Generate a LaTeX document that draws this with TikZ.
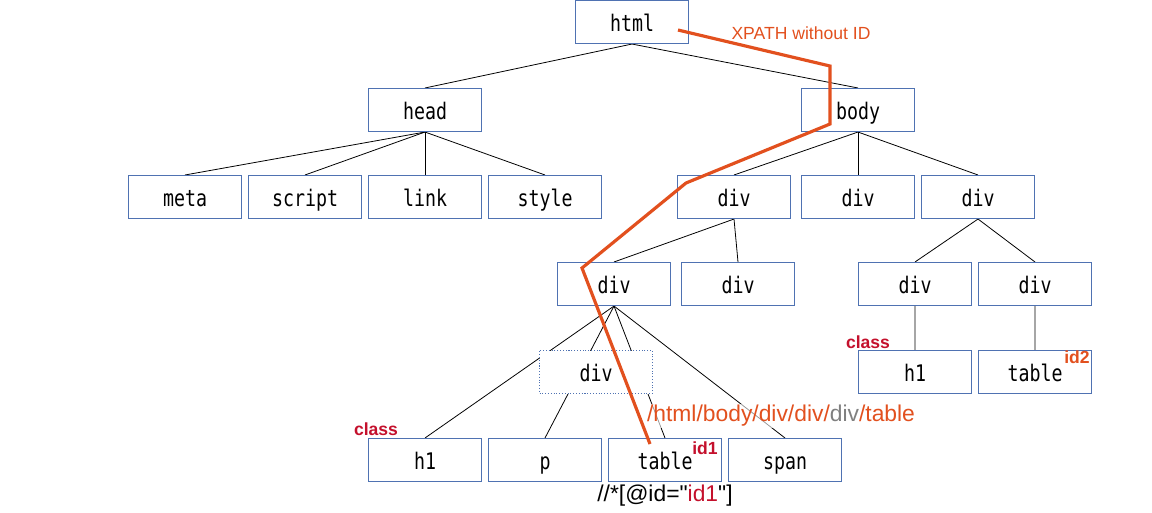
\documentclass[tikz,border=0pt]{standalone}
\usepackage{fontspec}
\setmainfont{Liberation Sans}[Ligatures=TeXOff]
\setmonofont{DejaVu Sans Mono}[FakeStretch=0.8]
\usetikzlibrary{backgrounds}

\definecolor{boxblue}{RGB}{79,114,178}
\definecolor{pathred}{RGB}{226,80,30}
\definecolor{tagred}{RGB}{196,16,44}

\tikzset{
	tag/.style={draw=boxblue, fill=white, line width=0.6pt, minimum width=2.26cm, minimum height=0.86cm, inner sep=0pt, text height=11pt, text depth=0pt, font=\ttfamily\fontsize{13}{15}\selectfont},
	vtag/.style={tag, densely dotted},
	edge/.style={line width=0.45pt, black},
	lightedge/.style={line width=0.6pt, gray!70},
	note/.style={font=\bfseries\fontsize{10}{12}\selectfont, text=tagred, inner sep=0pt},
	xpath/.style={line width=1.8pt, pathred, line join=miter}
}

\begin{document}
\begin{tikzpicture}[x=0.02cm, y=-0.02cm]
			\useasboundingbox (0,0) rectangle (1152,512);
			
			% level 0 and 1
			\node[tag] (html) at (632,22) {html};
			\node[tag] (head) at (425,110) {head};
			\node[tag] (body) at (858,110) {body};
			
			% head children
			\node[tag] (meta) at (185,197) {meta};
			\node[tag] (script) at (305,197) {script};
			\node[tag] (link) at (425,197) {link};
			\node[tag] (style) at (545,197) {style};
			
			% body children
			\node[tag] (divA) at (734,197) {div};
			\node[tag] (divB) at (858,197) {div};
			\node[tag] (divC) at (978,197) {div};
			
			\node[tag] (divAA) at (614,284) {div};
			\node[tag] (divAB) at (738,284) {div};
			\node[tag] (divCA) at (915,284) {div};
			\node[tag] (divCB) at (1035,284) {div};
			
			\node[tag] (hOneR) at (915,372) {h1};
			\node[tag] (tableR) at (1035,372) {table};
			
			\node[tag] (hOne) at (425,460) {h1};
			\node[tag] (para) at (545,460) {p};
			\node[tag] (tableL) at (665,460) {table};
			\node[tag] (span) at (785,460) {span};
			
			% the virtual div
			\node[vtag] (divV) at (596,372) {div};
			
			\begin{scope}[on background layer]
				\draw[edge] (html.south) -- (head.north);
				\draw[edge] (html.south) -- (body.north);
				\foreach \c in {meta,script,link,style}
					\draw[edge] (head.south) -- (\c.north);
				\foreach \c in {divA,divB,divC}
					\draw[edge] (body.south) -- (\c.north);
				\draw[edge] (divA.south) -- (divAA.north);
				\draw[edge] (divA.south) -- (divAB.north);
				\draw[edge] (divC.south) -- (divCA.north);
				\draw[edge] (divC.south) -- (divCB.north);
				\draw[lightedge] (divCA.south) -- (hOneR.north);
				\draw[lightedge] (divCB.south) -- (tableR.north);
				\foreach \c in {hOne,para,tableL,span}
					\draw[edge] (divAA.south) -- (\c.north);
			\end{scope}
			
			% notes
			\node[note] (clsL) at (376,429) {class};
			\node[note] (clsR) at (868,342) {class};
			\node[note] (idOne) at (705,448) {id1};
			\node[note, text=pathred] (idTwo) at (1077,357) {id2};
			
			\node[font=\fontsize{10}{12}\selectfont, text=pathred] (withoutid) at (801,33) {XPATH without ID};
			\node[font=\fontsize{13}{15}\selectfont, text=pathred, fill=white, fill opacity=0.6, text opacity=1, inner sep=1pt] (fullpath) at (781,416) {/html/body/div/div/\textcolor{gray}{div}/table};
			\node[font=\fontsize{13}{15}\selectfont, inner sep=0pt] (byid) at (665,496) {//*[@id="\textcolor{tagred}{id1}"]};
			
			% the path
			\coordinate (p1) at (678,30);
			\coordinate (p2) at (830,66);
			\coordinate (p3) at (830,124);
			\coordinate (p4) at (686,183);
			\coordinate (p5) at (582,268);
			\coordinate (p6) at (650,444);
			\draw[xpath] (p1) -- (p2) -- (p3) -- (p4) -- (p5) -- (p6);
		\end{tikzpicture}
\end{document}
